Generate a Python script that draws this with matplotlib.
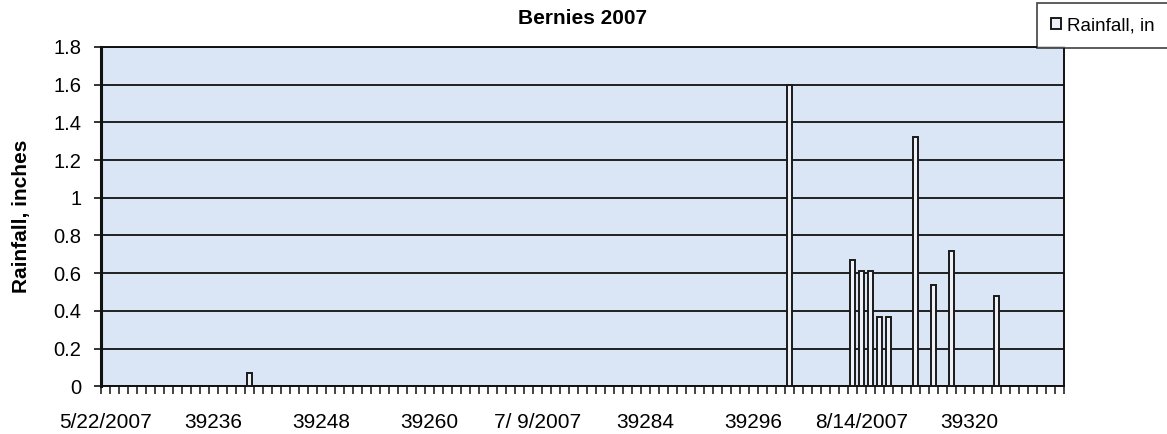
import matplotlib
matplotlib.use("Agg")
import matplotlib.pyplot as plt
import numpy as np

# ---- data ----
first_day = 39224          # Excel serial of 5/22/2007
last_day = 39330
rain_days = [39240, 39300, 39307, 39308, 39309, 39310, 39311, 39314, 39316, 39318, 39323]
rain_in = [0.07, 1.6, 0.67, 0.61, 0.61, 0.37, 0.37, 1.32, 0.54, 0.72, 0.48]
label_days = [39224, 39236, 39248, 39260, 39272, 39284, 39296, 39308, 39320]
label_texts = ["5/22/2007", "39236", "39248", "39260", "7/ 9/2007", "39284", "39296", "8/14/2007", "39320"]
y_ticks = [0, 0.2, 0.4, 0.6, 0.8, 1, 1.2, 1.4, 1.6, 1.8]
y_tick_labels = ["0", "0.2", "0.4", "0.6", "0.8", "1", "1.2", "1.4", "1.6", "1.8"]

plt.rcParams['font.family'] = ['Liberation Sans', 'DejaVu Sans']

W, H = 1167, 434
fig = plt.figure(figsize=(W / 100, H / 100), dpi=100)
ax = fig.add_axes([101 / W, 1 - 386.3 / H, (1064 - 101) / W, (386.3 - 47) / H])
ax.set_facecolor('#dae5f5')

n_cat = last_day - first_day + 1
x = [d - first_day for d in rain_days]
bars = ax.bar(x, rain_in, width=0.55, color='#eef2f8', edgecolor='#1a1a1a',
              linewidth=1.4, zorder=3, label='Rainfall, in')

ax.set_xlim(-0.5, n_cat - 0.5)
ax.set_ylim(0, 1.8)

# gridlines
ax.set_yticks(y_ticks)
ax.set_yticklabels(y_tick_labels, fontsize=14.5)
ax.yaxis.grid(True, color='#111111', linewidth=1.3)
ax.set_axisbelow(True)
ax.tick_params(axis='y', direction='out', length=5, width=1.2, color='#111111', pad=9)

# category boundary ticks (major, no labels) and label positions (minor, no tick marks)
ax.set_xticks(np.arange(-0.5, n_cat, 1.0))
ax.set_xticklabels([])
ax.tick_params(axis='x', which='major', direction='out', length=6, width=1.1, color='#111111')
ax.set_xticks([d - first_day for d in label_days], minor=True)
ax.set_xticklabels(label_texts, minor=True, fontsize=15)
ax.tick_params(axis='x', which='minor', length=0, pad=19)

for side in ['top', 'right', 'bottom']:
    ax.spines[side].set_color('#111111')
    ax.spines[side].set_linewidth(1.4)
ax.spines['left'].set_color('#111111')
ax.spines['left'].set_linewidth(2.2)

ax.set_ylabel('Rainfall, inches', fontsize=15, fontweight='bold', labelpad=16)
fig.text(582 / W, 1 - 18 / H, 'Bernies 2007', ha='center', va='center',
         fontsize=15, fontweight='bold')

leg = fig.legend(handles=[bars], labels=['Rainfall, in'], loc='upper left',
                 bbox_to_anchor=(1037 / W, 1 - 3 / H), fontsize=13.5,
                 frameon=True, fancybox=False, edgecolor='#111111',
                 handlelength=0.55, handleheight=0.55, handletextpad=0.3,
                 borderpad=0.75, borderaxespad=0)
leg.get_frame().set_linewidth(1.2)

fig.savefig('out.png', dpi=100, facecolor='white')
